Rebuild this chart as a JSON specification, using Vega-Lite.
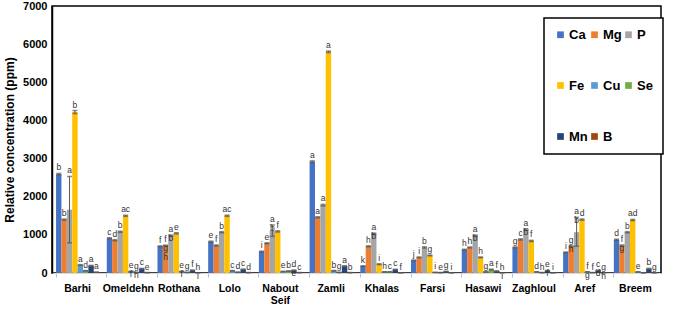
{
  "$schema": "https://vega.github.io/schema/vega-lite/v6.json",
  "width": 609,
  "height": 267,
  "padding": {"left": 3, "top": 0, "right": 22, "bottom": 0},
  "config": {
    "font": "Liberation Sans",
    "view": {"stroke": "#000000", "strokeWidth": 1.5},
    "axis": {"grid": false},
    "axisY": {
      "titleFontSize": 12, "titleFontWeight": "bold", "titleColor": "#000000", "titlePadding": 6,
      "values": [0,1000,2000,3000,4000,5000,6000,7000], "format": "d", "labelOverlap": false,
      "labelFontWeight": "bold", "labelFontSize": 11, "labelColor": "#000000",
      "ticks": false, "labelPadding": 5, "domainColor": "#000000", "domainWidth": 1.5
    }
  },
  "datasets": {
    "d": [
      {"v":"Barhi","e":"Ca","y":2590,"lo":2570,"hi":2610,"t":"b"},
      {"v":"Barhi","e":"Mg","y":1400,"lo":1385,"hi":1415,"t":"b"},
      {"v":"Barhi","e":"P","y":1660,"lo":790,"hi":2530,"t":"a"},
      {"v":"Barhi","e":"Fe","y":4220,"lo":4180,"hi":4260,"t":"b"},
      {"v":"Barhi","e":"Cu","y":210,"lo":200,"hi":220,"t":"a"},
      {"v":"Barhi","e":"Se","y":60,"lo":55,"hi":65,"t":"d"},
      {"v":"Barhi","e":"Mn","y":190,"lo":180,"hi":200,"t":"a"},
      {"v":"Barhi","e":"B","y":20,"lo":18,"hi":22,"t":"a"},
      {"v":"Omeldehn","e":"Ca","y":910,"lo":895,"hi":925,"t":"c"},
      {"v":"Omeldehn","e":"Mg","y":860,"lo":845,"hi":875,"t":"d"},
      {"v":"Omeldehn","e":"P","y":1080,"lo":1065,"hi":1095,"t":"b"},
      {"v":"Omeldehn","e":"Fe","y":1500,"lo":1485,"hi":1515,"t":"ac"},
      {"v":"Omeldehn","e":"Cu","y":40,"lo":35,"hi":45,"t":"e\nf"},
      {"v":"Omeldehn","e":"Se","y":15,"lo":12,"hi":18,"t":"g\nh"},
      {"v":"Omeldehn","e":"Mn","y":110,"lo":100,"hi":120,"t":"c"},
      {"v":"Omeldehn","e":"B","y":10,"lo":8,"hi":12,"t":"e"},
      {"v":"Rothana","e":"Ca","y":700,"lo":690,"hi":710,"t":"f"},
      {"v":"Rothana","e":"Mg","y":720,"lo":710,"hi":730,"t":"f\ng\nh"},
      {"v":"Rothana","e":"P","y":980,"lo":965,"hi":995,"t":"a\nb"},
      {"v":"Rothana","e":"Fe","y":1040,"lo":1025,"hi":1055,"t":"e"},
      {"v":"Rothana","e":"Cu","y":40,"lo":35,"hi":45,"t":"e\n\nf"},
      {"v":"Rothana","e":"Se","y":15,"lo":12,"hi":18,"t":"g"},
      {"v":"Rothana","e":"Mn","y":70,"lo":62,"hi":78,"t":"f"},
      {"v":"Rothana","e":"B","y":5,"lo":4,"hi":6,"t":"h\n\ni"},
      {"v":"Lolo","e":"Ca","y":820,"lo":805,"hi":835,"t":"e"},
      {"v":"Lolo","e":"Mg","y":720,"lo":705,"hi":735,"t":"f"},
      {"v":"Lolo","e":"P","y":1070,"lo":1055,"hi":1085,"t":"b"},
      {"v":"Lolo","e":"Fe","y":1500,"lo":1485,"hi":1515,"t":"ac"},
      {"v":"Lolo","e":"Cu","y":60,"lo":55,"hi":65,"t":"c"},
      {"v":"Lolo","e":"Se","y":20,"lo":16,"hi":24,"t":"d"},
      {"v":"Lolo","e":"Mn","y":95,"lo":85,"hi":105,"t":"c"},
      {"v":"Lolo","e":"B","y":10,"lo":8,"hi":12,"t":"d"},
      {"v":"Nabout Seif","e":"Ca","y":560,"lo":548,"hi":572,"t":"i"},
      {"v":"Nabout Seif","e":"Mg","y":780,"lo":768,"hi":792,"t":"e"},
      {"v":"Nabout Seif","e":"P","y":1110,"lo":960,"hi":1260,"t":"a\nb"},
      {"v":"Nabout Seif","e":"Fe","y":1090,"lo":1075,"hi":1105,"t":"f"},
      {"v":"Nabout Seif","e":"Cu","y":40,"lo":35,"hi":45,"t":"e"},
      {"v":"Nabout Seif","e":"Se","y":50,"lo":45,"hi":55,"t":"b"},
      {"v":"Nabout Seif","e":"Mn","y":70,"lo":62,"hi":78,"t":"d\ne"},
      {"v":"Nabout Seif","e":"B","y":10,"lo":8,"hi":12,"t":"c"},
      {"v":"Zamli","e":"Ca","y":2920,"lo":2900,"hi":2940,"t":"a"},
      {"v":"Zamli","e":"Mg","y":1460,"lo":1445,"hi":1475,"t":"a"},
      {"v":"Zamli","e":"P","y":1780,"lo":1760,"hi":1800,"t":"a"},
      {"v":"Zamli","e":"Fe","y":5800,"lo":5780,"hi":5820,"t":"a"},
      {"v":"Zamli","e":"Cu","y":60,"lo":55,"hi":65,"t":"b"},
      {"v":"Zamli","e":"Se","y":15,"lo":12,"hi":18,"t":"g"},
      {"v":"Zamli","e":"Mn","y":180,"lo":170,"hi":190,"t":"a"},
      {"v":"Zamli","e":"B","y":10,"lo":8,"hi":12,"t":"b"},
      {"v":"Khalas","e":"Ca","y":180,"lo":172,"hi":188,"t":"k"},
      {"v":"Khalas","e":"Mg","y":700,"lo":688,"hi":712,"t":"h"},
      {"v":"Khalas","e":"P","y":1030,"lo":1015,"hi":1045,"t":"a\nb"},
      {"v":"Khalas","e":"Fe","y":230,"lo":220,"hi":240,"t":"i"},
      {"v":"Khalas","e":"Cu","y":30,"lo":26,"hi":34,"t":"h"},
      {"v":"Khalas","e":"Se","y":30,"lo":26,"hi":34,"t":"c"},
      {"v":"Khalas","e":"Mn","y":90,"lo":82,"hi":98,"t":"c"},
      {"v":"Khalas","e":"B","y":5,"lo":4,"hi":6,"t":"f"},
      {"v":"Farsi","e":"Ca","y":330,"lo":320,"hi":340,"t":"j"},
      {"v":"Farsi","e":"Mg","y":410,"lo":400,"hi":420,"t":"i"},
      {"v":"Farsi","e":"P","y":670,"lo":655,"hi":685,"t":"b"},
      {"v":"Farsi","e":"Fe","y":460,"lo":450,"hi":470,"t":"g"},
      {"v":"Farsi","e":"Cu","y":15,"lo":12,"hi":18,"t":"i"},
      {"v":"Farsi","e":"Se","y":10,"lo":8,"hi":12,"t":"e"},
      {"v":"Farsi","e":"Mn","y":40,"lo":35,"hi":45,"t":"g"},
      {"v":"Farsi","e":"B","y":5,"lo":4,"hi":6,"t":"i"},
      {"v":"Hasawi","e":"Ca","y":610,"lo":598,"hi":622,"t":"h"},
      {"v":"Hasawi","e":"Mg","y":670,"lo":658,"hi":682,"t":"h"},
      {"v":"Hasawi","e":"P","y":980,"lo":965,"hi":995,"t":"a\nb"},
      {"v":"Hasawi","e":"Fe","y":410,"lo":400,"hi":420,"t":"h"},
      {"v":"Hasawi","e":"Cu","y":30,"lo":26,"hi":34,"t":"g"},
      {"v":"Hasawi","e":"Se","y":90,"lo":80,"hi":100,"t":"a"},
      {"v":"Hasawi","e":"Mn","y":50,"lo":45,"hi":55,"t":"f"},
      {"v":"Hasawi","e":"B","y":5,"lo":4,"hi":6,"t":"h\ni"},
      {"v":"Zaghloul","e":"Ca","y":670,"lo":658,"hi":682,"t":"g"},
      {"v":"Zaghloul","e":"Mg","y":880,"lo":865,"hi":895,"t":"c"},
      {"v":"Zaghloul","e":"P","y":1140,"lo":1120,"hi":1160,"t":"a\nb"},
      {"v":"Zaghloul","e":"Fe","y":840,"lo":825,"hi":855,"t":"f"},
      {"v":"Zaghloul","e":"Cu","y":30,"lo":26,"hi":34,"t":"d"},
      {"v":"Zaghloul","e":"Se","y":10,"lo":8,"hi":12,"t":"h"},
      {"v":"Zaghloul","e":"Mn","y":60,"lo":54,"hi":66,"t":"e\nf"},
      {"v":"Zaghloul","e":"B","y":5,"lo":4,"hi":6,"t":"i"},
      {"v":"Aref","e":"Ca","y":540,"lo":528,"hi":552,"t":"i"},
      {"v":"Aref","e":"Mg","y":700,"lo":688,"hi":712,"t":"g\n\nh"},
      {"v":"Aref","e":"P","y":1070,"lo":700,"hi":1460,"t":"a\nb"},
      {"v":"Aref","e":"Fe","y":1400,"lo":1385,"hi":1415,"t":"d"},
      {"v":"Aref","e":"Cu","y":30,"lo":26,"hi":34,"t":"f\ng"},
      {"v":"Aref","e":"Se","y":10,"lo":8,"hi":12,"t":"f"},
      {"v":"Aref","e":"Mn","y":70,"lo":62,"hi":78,"t":"c\nd"},
      {"v":"Aref","e":"B","y":5,"lo":4,"hi":6,"t":"g\nh"},
      {"v":"Breem","e":"Ca","y":870,"lo":855,"hi":885,"t":"d"},
      {"v":"Breem","e":"Mg","y":720,"lo":705,"hi":735,"t":"f\ng"},
      {"v":"Breem","e":"P","y":1070,"lo":1055,"hi":1085,"t":"b"},
      {"v":"Breem","e":"Fe","y":1390,"lo":1375,"hi":1405,"t":"ad"},
      {"v":"Breem","e":"Cu","y":30,"lo":26,"hi":34,"t":"e"},
      {"v":"Breem","e":"Se","y":5,"lo":4,"hi":6,"t":""},
      {"v":"Breem","e":"Mn","y":110,"lo":100,"hi":120,"t":"b"},
      {"v":"Breem","e":"B","y":5,"lo":4,"hi":6,"t":"g"}
    ]
  },
  "data": {"name": "d"},
  "encoding": {
    "x": {
      "field": "v", "type": "nominal", "sort": null,
      "scale": {"paddingInner": 0.15, "paddingOuter": 0.08},
      "axis": {
        "title": null, "labelAngle": 0, "labelFontWeight": "bold", "labelFontSize": 10.5,
        "labelColor": "#000000", "labelPadding": 6,
        "domainColor": "#d9d9d9", "tickColor": "#bfbfbf", "tickSize": 4, "bandPosition": 0,
        "labelExpr": "datum.value == 'Nabout Seif' ? ['Nabout', 'Seif'] : datum.value"
      }
    },
    "xOffset": {
      "field": "e", "type": "nominal",
      "sort": ["Ca","Mg","P","Fe","Cu","Se","Mn","B"],
      "scale": {"paddingInner": 0, "paddingOuter": 0}
    }
  },
  "layer": [
    {
      "mark": {"type": "bar"},
      "encoding": {
        "y": {
          "field": "y", "type": "quantitative",
          "scale": {"domain": [0, 7000]},
          "axis": {"title": "Relative concentration (ppm)"}
        },
        "color": {
          "field": "e", "type": "nominal",
          "sort": ["Ca","Mg","P","Fe","Cu","Se","Mn","B"],
          "scale": {
            "domain": ["Ca","Mg","P","Fe","Cu","Se","Mn","B"],
            "range": ["#4472C4","#ED7D31","#A5A5A5","#FFC000","#5B9BD5","#70AD47","#264478","#9E480E"]
          },
          "legend": {
            "title": null, "orient": "none", "legendX": 492, "legendY": 12, "columns": 3,
            "direction": "horizontal", "symbolType": "square", "symbolSize": 45,
            "symbolStrokeWidth": 0,
            "labelFontSize": 13, "labelFontWeight": "bold", "labelColor": "#000000",
            "labelOffset": 2, "rowPadding": 37, "columnPadding": -17,
            "padding": 10, "strokeColor": "#000000", "fillColor": "#ffffff",
            "encode": {"legend": {"update": {"strokeWidth": {"value": 1.5}}}}
          }
        }
      }
    },
    {
      "mark": {"type": "rule", "color": "#595959", "strokeWidth": 1},
      "encoding": {
        "y": {"field": "lo", "type": "quantitative"},
        "y2": {"field": "hi"}
      }
    },
    {
      "mark": {"type": "tick", "color": "#595959", "thickness": 1.5, "size": 5},
      "encoding": {"y": {"field": "hi", "type": "quantitative"}}
    },
    {
      "mark": {"type": "tick", "color": "#595959", "thickness": 1.5, "size": 5},
      "encoding": {"y": {"field": "lo", "type": "quantitative"}}
    },
    {
      "mark": {"type": "text", "fontSize": 8.5, "baseline": "bottom", "dy": -1, "lineBreak": "\n", "lineHeight": 9, "color": "#333333"},
      "encoding": {
        "y": {"field": "hi", "type": "quantitative"},
        "text": {"field": "t"}
      }
    }
  ]
}
